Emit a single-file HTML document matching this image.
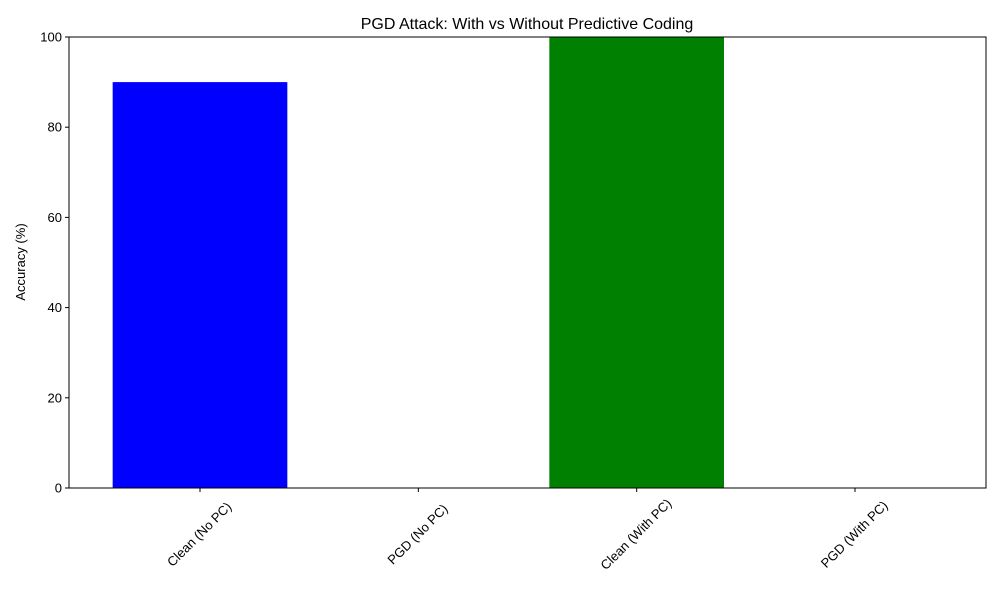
<!DOCTYPE html>
<html><head><meta charset="utf-8"><style>body{margin:0;background:#fff}svg{display:block;font-family:"Liberation Sans","DejaVu Sans",sans-serif}</style></head>
<body>
<svg id="chart" width="1000" height="600">
<rect width="1000" height="600" fill="#fff"/>
<text x="527" y="29" text-anchor="middle" font-size="16">PGD Attack: With vs Without Predictive Coding</text>
<text transform="translate(25,262) rotate(-90)" text-anchor="middle" font-size="13">Accuracy (%)</text>
<g id="bars"></g><g id="yticks"></g><g id="xticks"></g>
<rect x="69" y="37" width="917" height="451" fill="none" stroke="#000" stroke-width="1"/>
</svg>
<script>
const categories = ["Clean (No PC)", "PGD (No PC)", "Clean (With PC)", "PGD (With PC)"];
const values = [90, 0, 100, 0];
const colors = ["blue", "red", "green", "orange"];
const yTicks = [0, 20, 40, 60, 80, 100];
const NS = "http://www.w3.org/2000/svg";
const L = 69, R = 986, T = 37, B = 488, yMax = 100;
const n = categories.length;
const step = (R - L) / (n - 1 + 2 * 0.6);
const xPos = i => L + step * (0.6 + i);
const yPos = v => B - (v / yMax) * (B - T);
const bw = step * 0.8;
function mk(tag, attrs, parent) { const e = document.createElementNS(NS, tag); for (const k in attrs) e.setAttribute(k, attrs[k]); parent.appendChild(e); return e; }
const gb = document.getElementById("bars"), gy = document.getElementById("yticks"), gx = document.getElementById("xticks");
values.forEach((v, i) => {
  const r = mk("rect", { x: xPos(i) - bw / 2, y: yPos(v), width: bw, height: B - yPos(v), fill: colors[i] }, gb);
  
  
});
yTicks.forEach(t => {
  const y = yPos(t);
  const l = mk("line", { x1: L - 4, x2: L, y1: y, y2: y, stroke: "#000" }, gy);
  
  
  const tx = mk("text", { x: L - 7, y: y + 4.5, "text-anchor": "end", "font-size": "13" }, gy);
  tx.textContent = t;
  
  
});
categories.forEach((c, i) => {
  const x = xPos(i);
  const l = mk("line", { x1: x, x2: x, y1: B, y2: B + 4, stroke: "#000" }, gx);
  
  
  const tx = mk("text", { transform: `translate(${x},${B + 47}) rotate(-45)`, "text-anchor": "middle", "dominant-baseline": "middle", "font-size": "13" }, gx);
  tx.textContent = c;
  
  
});
</script>
</body></html>
